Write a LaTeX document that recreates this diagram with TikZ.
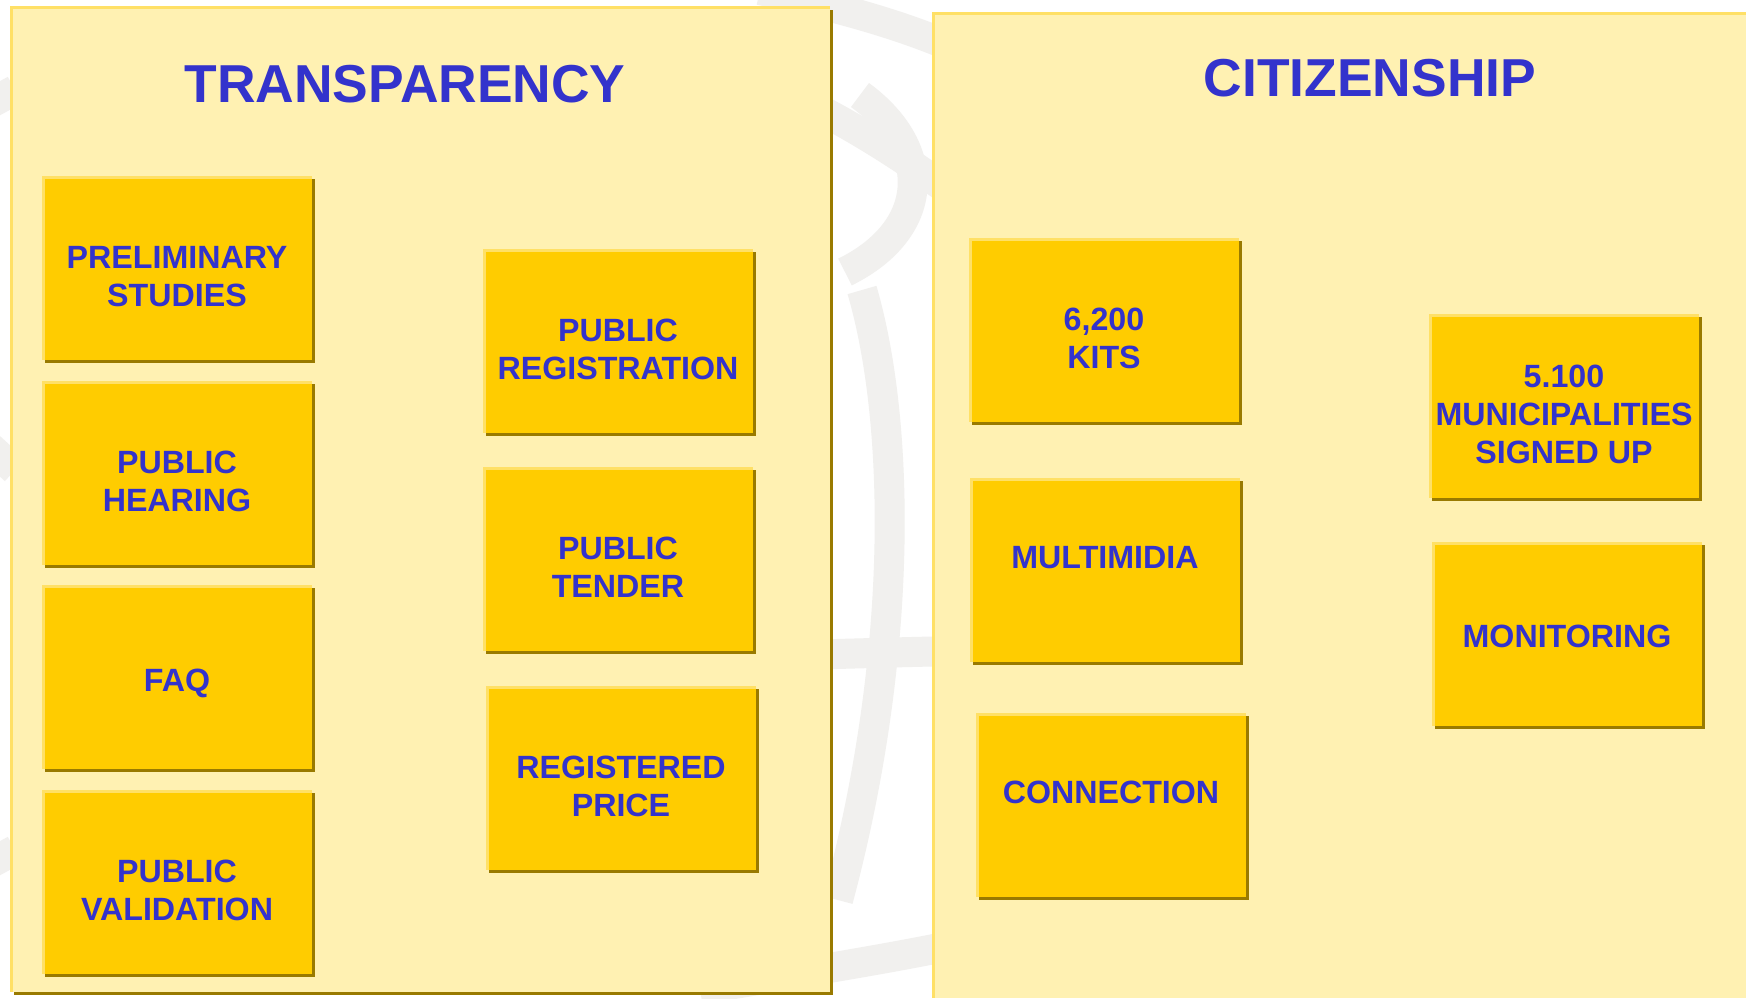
\documentclass[tikz,border=0pt]{standalone}
\usepackage{fontspec}
\setsansfont{Liberation Sans}
\usetikzlibrary{shadows}

\definecolor{boxyellow}{RGB}{255,204,0}
\definecolor{edgeyellow}{RGB}{255,224,102}
\definecolor{shadowbrown}{RGB}{153,122,0}
\definecolor{panelyellow}{RGB}{255,241,178}
\definecolor{inkblue}{RGB}{51,51,204}
\definecolor{globegray}{RGB}{241,240,238}

%% extra room above the first line, so the text sits a little low
\newcommand{\padtop}[1][19.5pt]{\rule{0pt}{#1}}

\begin{document}
\begin{tikzpicture}[
      x=0.5pt, y=-0.5pt,%
      globe/.style={globegray, line width=15pt},%
      heading/.style={text=inkblue, font=\sffamily\bfseries\fontsize{26.7}{32}\selectfont},%
      item/.style={fill=boxyellow, minimum width=135pt, minimum height=92pt,
        inner sep=0pt, align=center, text=inkblue,
        font=\sffamily\bfseries\fontsize{16.1}{19}\selectfont,
        drop shadow={shadow xshift=1.5pt, shadow yshift=-1.5pt, fill=shadowbrown, opacity=1},
        path picture={\draw[edgeyellow, line width=3pt]
          (path picture bounding box.south west) -- (path picture bounding box.north west)
          -- (path picture bounding box.north east);}},%
      upper/.style={text depth=13pt}%
    ]
    \useasboundingbox (0,0) rectangle (1746,998);
    \fill[white] (0,0) rectangle (1746,998);

    %% Faint globe behind the panels
    \draw[globe] (760,-10) .. controls (850,10) and (920,30) .. (980,60);
    \draw[globe] (700,60) .. controls (800,90) and (900,150) .. (1000,230);
    \draw[globe] (860,95) .. controls (935,150) and (930,230) .. (845,272);
    \draw[globe] (862,290) .. controls (900,420) and (905,650) .. (838,900);
    \draw[globe] (600,662) .. controls (750,656) and (900,652) .. (1000,650);
    \draw[globe] (700,990) .. controls (800,972) and (900,958) .. (1000,935);
    \draw[globe] (-40,120) -- (15,90);
    \draw[globe] (-40,420) -- (15,470);
    \draw[globe] (-40,880) -- (15,850);

    %% Transparency panel
    \fill[shadowbrown] (14,10) rectangle (833,995);
    \fill[panelyellow] (11,7) rectangle (830,992);
    \draw[edgeyellow, line width=1.5pt] (11,992) -- (11,7) -- (830,7);
    \node[heading] (transpTitle) at (405,84) {TRANSPARENCY};

    %% Citizenship panel
    \fill[panelyellow] (933,13) rectangle (1746,998);
    \draw[edgeyellow, line width=1.5pt] (933,998) -- (933,13) -- (1746,13);
    \node[heading] (citizTitle) at (1370,78) {CITIZENSHIP};

    %% Transparency items
    \node[item] (prelim)     at (177,268) {\padtop PRELIMINARY\\STUDIES};
    \node[item] (hearing)    at (177,473) {\padtop PUBLIC\\HEARING};
    \node[item] (faq)        at (177,677) {\padtop[18pt]FAQ};
    \node[item] (validation) at (177,882) {\padtop PUBLIC\\VALIDATION};
    \node[item] (register)   at (618,341) {\padtop PUBLIC\\REGISTRATION};
    \node[item] (tender)     at (618,559) {\padtop PUBLIC\\TENDER};
    \node[item] (price)      at (621,778) {\padtop REGISTERED\\PRICE};

    %% Citizenship items
    \node[item] (kits)       at (1104,330) {\padtop 6,200\\KITS};
    \node[item, upper] (multimidia) at (1105,570) {MULTIMIDIA};
    \node[item, upper] (connection) at (1111,805) {CONNECTION};
    \node[item] (municip)    at (1564,406) {\padtop 5.100\\MUNICIPALITIES\\SIGNED UP};
    \node[item] (monitoring) at (1567,634) {\padtop[14pt]MONITORING};
  \end{tikzpicture}
\end{document}
